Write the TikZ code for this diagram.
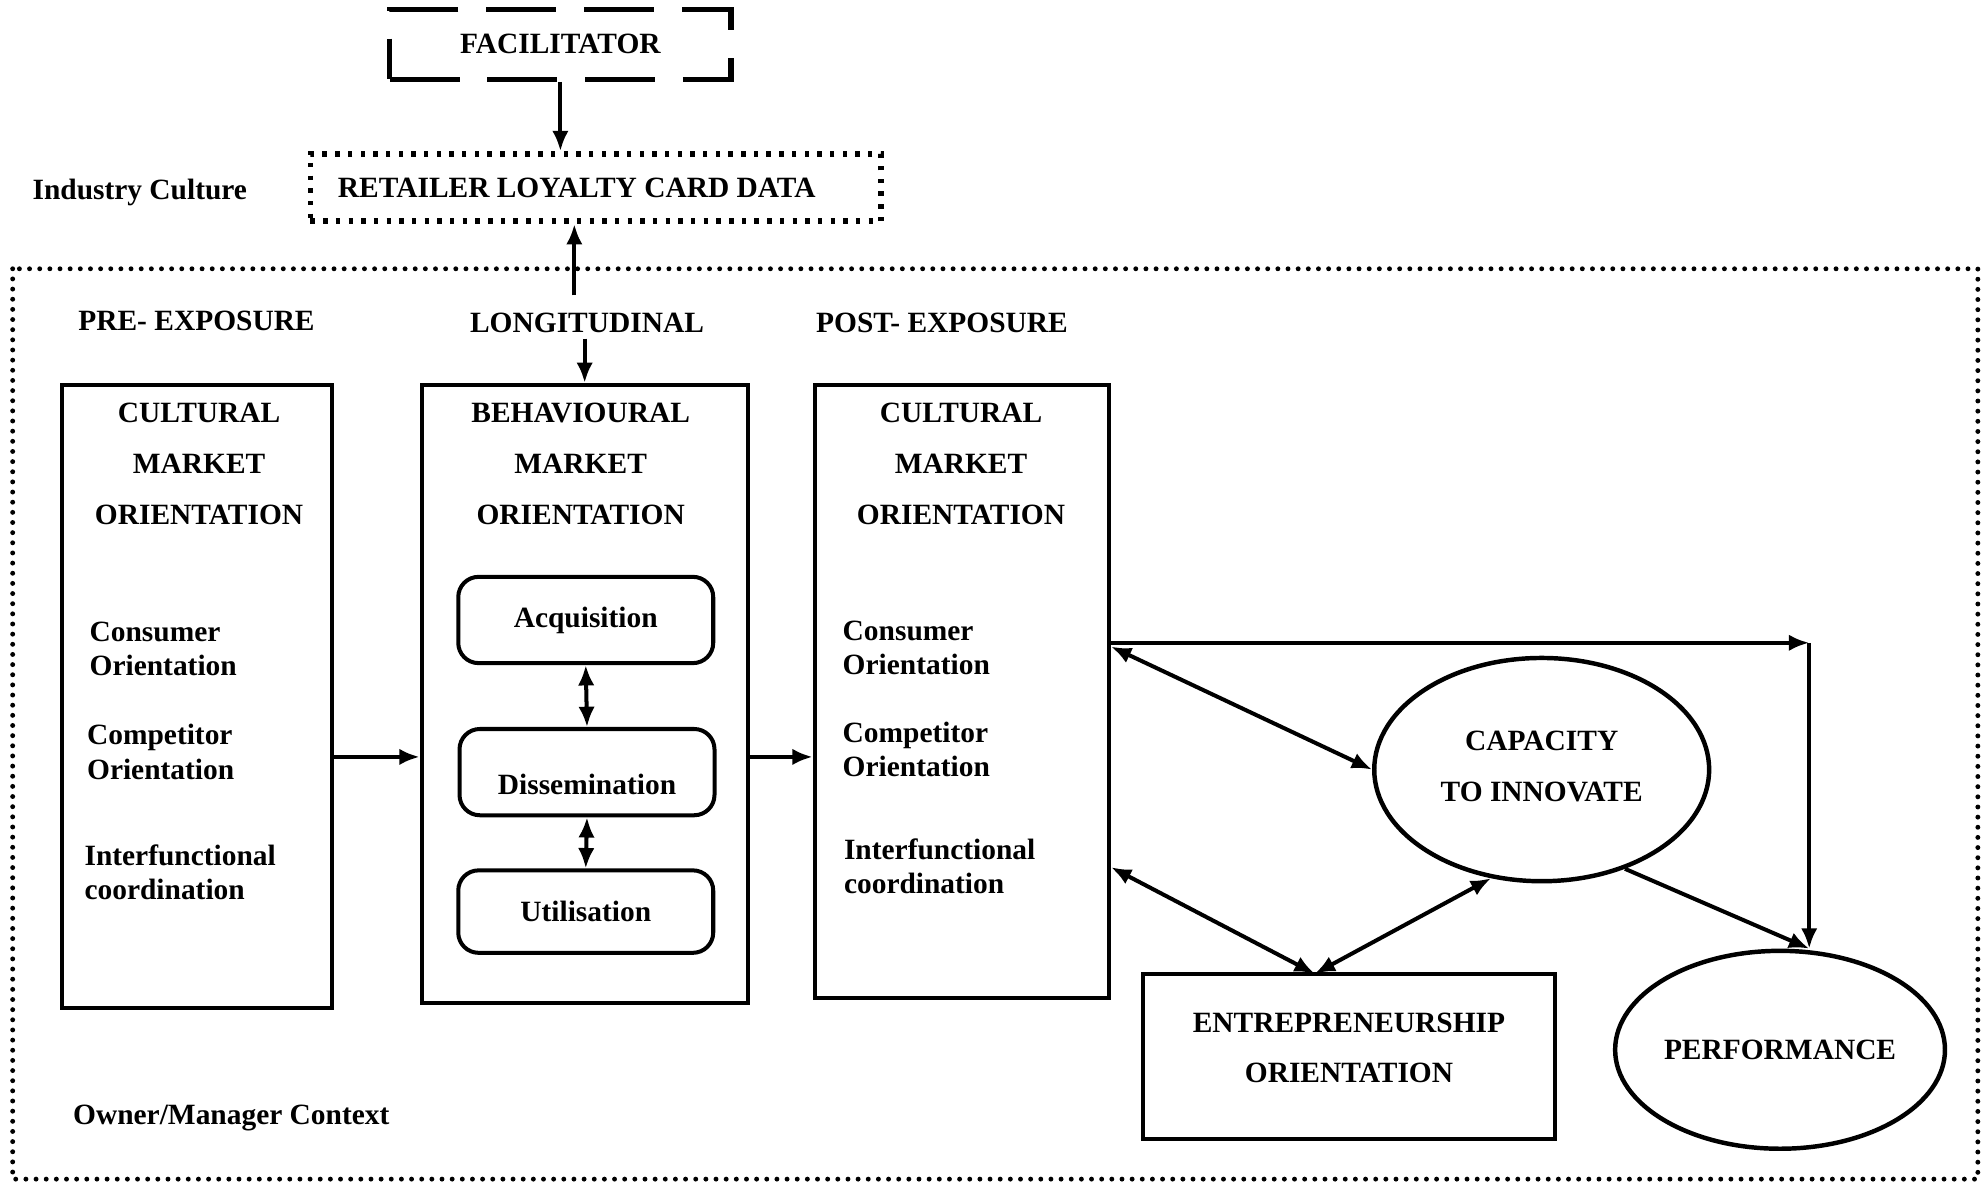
\documentclass[tikz,border=0pt]{standalone}
\usepackage{fontspec}
\setmainfont{Liberation Serif}
\usetikzlibrary{arrows.meta,shapes.geometric}

\tikzset{
  txt/.style={font=\fontsize{6.6}{11.4}\selectfont\bfseries, inner sep=1pt, align=center},
  item/.style={txt, font=\fontsize{6.6}{7.7}\selectfont\bfseries, align=left, anchor=west, inner sep=0pt},
  bigbox/.style={draw, line width=0.9pt, anchor=north west},
  rbox/.style={txt, draw, line width=0.9pt, rounded corners=1.6mm, minimum width=2.01cm, minimum height=0.68cm},
  oval/.style={txt, draw, ellipse, inner sep=0pt, line width=1pt},
  fleche/.style={-{Latex[length=1.6mm,width=1.3mm]}, line width=0.9pt},
  dfleche/.style={{Latex[length=1.6mm,width=1.3mm]}-{Latex[length=1.6mm,width=1.3mm]}, line width=0.9pt},
}

\begin{document}
\begin{tikzpicture}[x=0.01cm,y=-0.01cm]
\useasboundingbox (0,0) rectangle (1568,936);

% haut : facilitateur et carte de fidelite
\node[txt, draw, line width=1.2pt, dash pattern=on 0.55cm off 0.22cm, minimum width=2.69cm, minimum height=0.55cm] (fac) at (442,35) {FACILITATOR};
\node[txt, draw, line width=1.3pt, dash pattern=on 0.035cm off 0.065cm, minimum width=4.5cm, minimum height=0.53cm] (rlcd) at (470,148) {\hspace*{-0.3cm}RETAILER LOYALTY CARD DATA};
\node[txt, anchor=west, inner sep=0pt] (ic) at (25,152) {Industry Culture};

% cadre du contexte
\draw[line width=1.1pt, line cap=round, dash pattern=on 0pt off 0.08cm] (10,212) rectangle (1560,930);
\node[txt, anchor=west, inner sep=0pt] (omc) at (57,882) {Owner/Manager Context};

% etapes
\node[txt] (pre) at (155,253) {PRE- EXPOSURE};
\node[txt] (longi) at (463,255) {LONGITUDINAL};
\node[txt] (post) at (743,255) {POST- EXPOSURE};

% les trois colonnes
\node[bigbox, minimum width=2.13cm, minimum height=4.91cm] (cmo1) at (47,302) {};
\node[bigbox, minimum width=2.57cm, minimum height=4.87cm] (bmo) at (331,302) {};
\node[bigbox, minimum width=2.32cm, minimum height=4.83cm] (cmo2) at (641,302) {};

\node[txt] (t1) at (157,366) {CULTURAL\\MARKET\\ORIENTATION};
\node[txt] (t2) at (458,366) {BEHAVIOURAL\\MARKET\\ORIENTATION};
\node[txt] (t3) at (758,366) {CULTURAL\\MARKET\\ORIENTATION};

\node[item] (co1) at (70,512) {Consumer\\Orientation};
\node[item] (cp1) at (68,593) {Competitor\\Orientation};
\node[item] (if1) at (66,688) {Interfunctional\\coordination};
\node[item] (co2) at (664,511) {Consumer\\Orientation};
\node[item] (cp2) at (664,591) {Competitor\\Orientation};
\node[item] (if2) at (665,683) {Interfunctional\\coordination};

% processus interne
\node[rbox] (acq) at (462,489) {Acquisition};
\node[rbox] (diss) at (463,609) {\raisebox{-0.1cm}[\height][\depth]{Dissemination}};
\node[rbox, minimum height=0.65cm] (utl) at (462,719) {Utilisation};

% partie droite
\node[oval, minimum width=2.64cm, minimum height=1.76cm] (cap) at (1216,607) {\raisebox{0.03cm}[\height][\depth]{\begin{tabular}{@{}c@{}}CAPACITY\\TO INNOVATE\end{tabular}}};
\node[txt, draw, line width=0.9pt, minimum width=3.24cm, minimum height=1.3cm] (eo) at (1064,833) {\raisebox{0.07cm}[\height][\depth]{\begin{tabular}{@{}c@{}}ENTREPRENEURSHIP\\ORIENTATION\end{tabular}}};
\node[oval, minimum width=2.6cm, minimum height=1.56cm] (perf) at (1404,828) {PERFORMANCE};

\coordinate (lg) at (453,233);
\coordinate (mid) at (0,597);
\coordinate (corner) at (1427,507);
\coordinate (eotop) at (1037,768);
\coordinate (pf) at (corner |- perf.north);

% fleches
\draw[fleche] (fac.south) -- (fac.south |- rlcd.north);
\draw[fleche] (lg) -- (lg |- rlcd.south);
\draw[fleche] (bmo.north |- longi.south) -- (bmo.north);
\draw[fleche] (cmo1.east |- mid) -- (bmo.west |- mid);
\draw[fleche] (bmo.east |- mid) -- (cmo2.west |- mid);
\draw[dfleche] (acq.south) -- (diss.north);
\draw[dfleche] (diss.south) -- (utl.north);

\draw[fleche] (cmo2.east |- corner) -- (corner);
\draw[fleche] (corner) -- (pf);
\draw[dfleche] (cmo2.east |- 0,510) -- (cap.west);
\draw[dfleche] (cmo2.east |- 0,684) -- (eotop);
\draw[dfleche] (cap.-115) -- (eotop);
\draw[fleche] (cap.-50) -- (pf);

\end{tikzpicture}
\end{document}
